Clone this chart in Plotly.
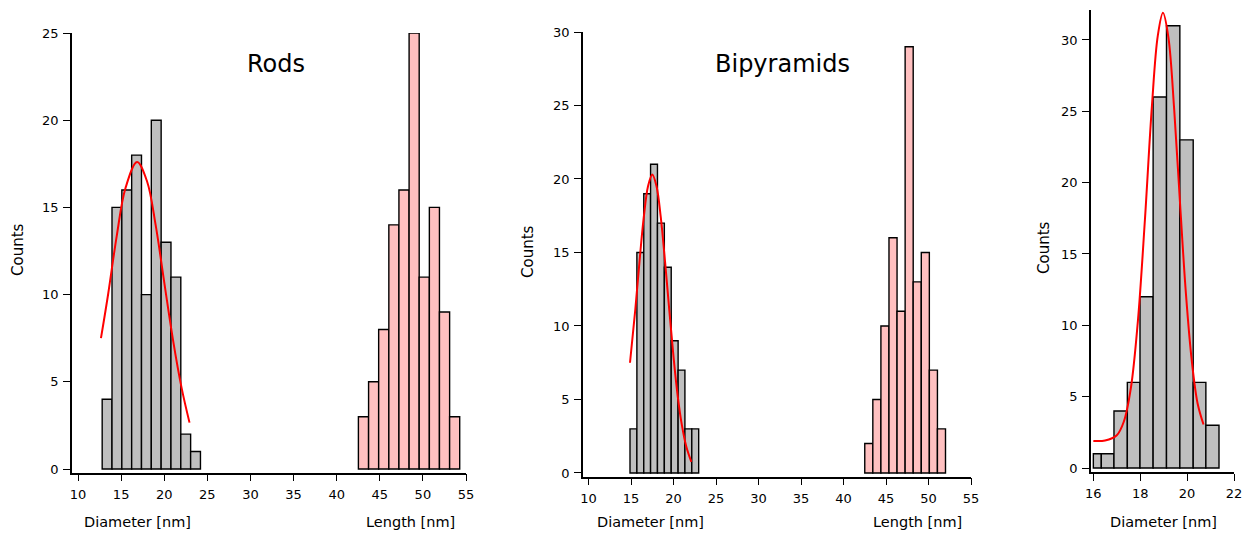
import plotly.graph_objects as go

# ---------------- data ----------------
# Rods panel
rods_diam_edges = [12.8, 13.94, 15.08, 16.22, 17.36, 18.5, 19.64, 20.78, 21.92, 23.06, 24.2]
rods_diam_counts = [4, 15, 16, 18, 10, 20, 13, 11, 2, 1]
rods_len_edges = [42.52, 43.7, 44.87, 46.05, 47.22, 48.4, 49.57, 50.75, 51.92, 53.1, 54.27]
rods_len_counts = [3, 5, 8, 14, 16, 25, 11, 15, 9, 3]
rods_fit_x = [12.66, 13.5, 14.5, 15.5, 16.85, 18.0, 19.0, 20.0, 21.0, 22.0, 22.93]
rods_fit_y = [7.5, 10.05, 13.4, 16.1, 17.6, 16.5, 14.0, 10.7, 7.45, 4.68, 2.66]

# Bipyramids panel
bipy_diam_edges = [14.88, 15.69, 16.5, 17.3, 18.11, 18.92, 19.73, 20.54, 21.34, 22.15, 22.96]
bipy_diam_counts = [3, 15, 19, 21, 17, 14, 9, 7, 3, 3]
bipy_len_edges = [42.5, 43.45, 44.4, 45.35, 46.3, 47.25, 48.2, 49.15, 50.1, 51.05, 52.0]
bipy_len_counts = [2, 5, 10, 16, 11, 29, 13, 15, 7, 3]
bipy_fit_x = [14.88, 15.5, 16.0, 16.5, 17.0, 17.5, 18.0, 18.5, 19.0, 19.5, 20.0, 20.5, 21.0, 21.5, 22.1]
bipy_fit_y = [7.5, 11.1, 14.4, 17.4, 19.5, 20.3, 19.5, 17.4, 14.4, 11.1, 7.9, 5.2, 3.2, 1.8, 0.75]

# Right panel (diameter)
right_edges = [16.0, 16.34, 16.88, 17.45, 17.99, 18.55, 19.12, 19.69, 20.26, 20.8, 21.36]
right_counts = [1, 1, 4, 6, 12, 26, 31, 23, 6, 3]
right_fit_x = [16.0, 16.5, 17.0, 17.3, 17.6, 17.9, 18.2, 18.5, 18.75, 18.97, 19.2, 19.45, 19.7, 19.95, 20.2, 20.45, 20.7]
right_fit_y = [1.9, 1.93, 2.3, 3.25, 5.6, 10.3, 17.4, 25.4, 30.3, 31.9, 30.2, 25.1, 18.5, 12.2, 7.5, 4.5, 3.05]

x_ticks_main = [10, 15, 20, 25, 30, 35, 40, 45, 50, 55]
x_ticks_right = [16, 18, 20, 22]

# ---------------- styling ----------------
W, H = 1244, 535
FONT = "DejaVu Sans"
GRAY = "#bfbfbf"
PINK = "#ffc0c0"
RED = "#ff0000"


def px_x(p):
    return p / W


def px_y(p):
    return 1 - p / H


def bars(edges, counts, color, xa, ya):
    centers = [(edges[i] + edges[i + 1]) / 2 for i in range(len(counts))]
    widths = [edges[i + 1] - edges[i] for i in range(len(counts))]
    return go.Bar(x=centers, y=counts, width=widths, xaxis=xa, yaxis=ya,
                  marker=dict(color=color, line=dict(color="black", width=1.4)),
                  showlegend=False, hoverinfo="skip")


def fit(xs, ys, xa, ya):
    return go.Scatter(x=xs, y=ys, mode="lines", xaxis=xa, yaxis=ya,
                      line=dict(color=RED, width=2, shape="spline", smoothing=1.0),
                      showlegend=False, hoverinfo="skip")


fig = go.Figure()
fig.add_trace(bars(rods_diam_edges, rods_diam_counts, GRAY, "x", "y"))
fig.add_trace(bars(rods_len_edges, rods_len_counts, PINK, "x", "y"))
fig.add_trace(fit(rods_fit_x, rods_fit_y, "x", "y"))
fig.add_trace(bars(bipy_diam_edges, bipy_diam_counts, GRAY, "x2", "y2"))
fig.add_trace(bars(bipy_len_edges, bipy_len_counts, PINK, "x2", "y2"))
fig.add_trace(fit(bipy_fit_x, bipy_fit_y, "x2", "y2"))
fig.add_trace(bars(right_edges, right_counts, GRAY, "x3", "y3"))
fig.add_trace(fit(right_fit_x, right_fit_y, "x3", "y3"))

axis_common = dict(showgrid=False, zeroline=False, showline=True, linecolor="black",
                   linewidth=1.5, ticks="outside", ticklen=7, tickwidth=1.3,
                   tickcolor="black", tickfont=dict(family=FONT, size=13, color="black"),
                   ticklabelstandoff=2, automargin=False, fixedrange=True)

fig.update_layout(
    width=W, height=H,
    margin=dict(l=0, r=0, t=0, b=0),
    paper_bgcolor="white", plot_bgcolor="rgba(0,0,0,0)",
    barmode="overlay",
    showlegend=False,
    xaxis=dict(axis_common, domain=[px_x(72), px_x(466)], range=[9.3, 55.0],
               tickvals=x_ticks_main, anchor="y"),
    yaxis=dict(axis_common, domain=[px_y(472.5), px_y(33)], range=[-0.2, 25],
               tickvals=[0, 5, 10, 15, 20, 25], anchor="x"),
    xaxis2=dict(axis_common, domain=[px_x(583), px_x(971)], range=[9.35, 55.0],
                tickvals=x_ticks_main, anchor="y2"),
    yaxis2=dict(axis_common, domain=[px_y(476.5), px_y(32)], range=[-0.24, 30],
                tickvals=[0, 5, 10, 15, 20, 25, 30], anchor="x2"),
    xaxis3=dict(axis_common, domain=[px_x(1091), px_x(1234)], range=[15.9, 22.0],
                tickvals=x_ticks_right, anchor="y3"),
    yaxis3=dict(axis_common, domain=[px_y(472), px_y(10)], range=[-0.28, 32.1],
                tickvals=[0, 5, 10, 15, 20, 25, 30], anchor="x3"),
)

ann = []


def label(text, x, y, size=14.5, angle=0):
    ann.append(dict(text=text, x=px_x(x), y=px_y(y), xref="paper", yref="paper",
                    showarrow=False, textangle=angle, xanchor="center", yanchor="middle",
                    font=dict(family=FONT, size=size, color="black")))


label("Rods", 276, 64, size=24)
label("Bipyramids", 782, 64, size=24)
label("Diameter [nm]", 137, 522)
label("Length [nm]", 410, 522)
label("Diameter [nm]", 650, 522)
label("Length [nm]", 918, 522)
label("Diameter [nm]", 1163, 522)
label("Counts", 18, 250, size=15, angle=-90)
label("Counts", 528, 252, size=15, angle=-90)
label("Counts", 1044, 248, size=15, angle=-90)
fig.update_layout(annotations=ann)

fig.write_html("out.html")
